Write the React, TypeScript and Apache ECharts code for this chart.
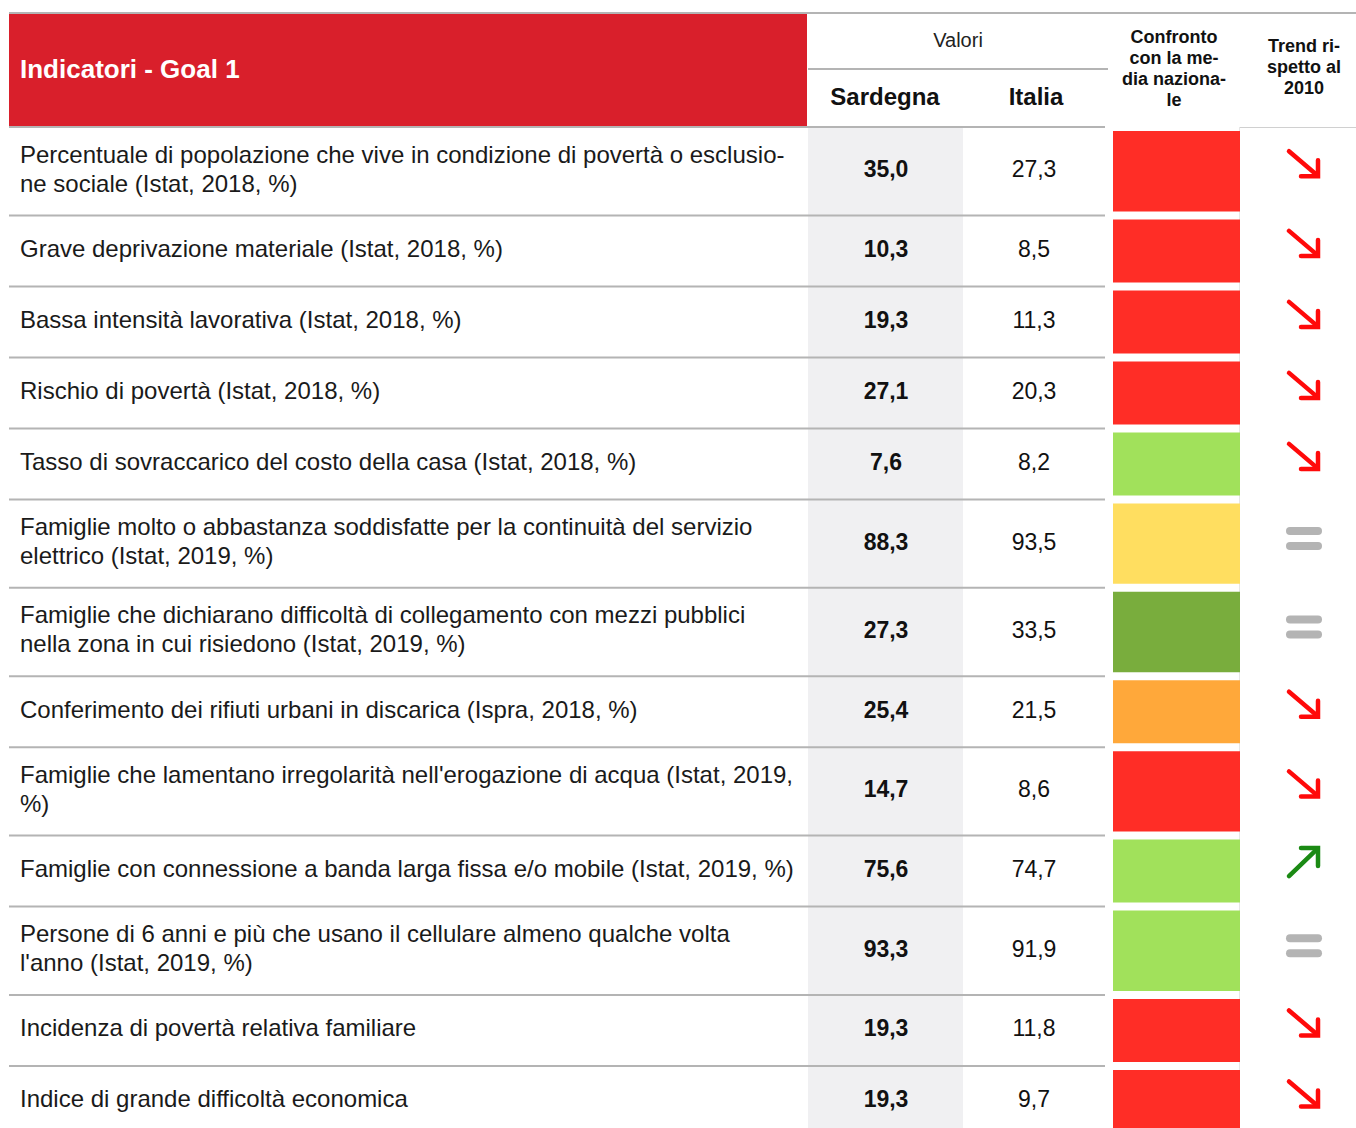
import React, { useEffect, useRef } from "react";
import * as echarts from "echarts";

const LABELS: string[] = [
  "Percentuale di popolazione che vive in condizione di povertà o esclusio-\nne sociale (Istat, 2018, %)",
  "Grave deprivazione materiale (Istat, 2018, %)",
  "Bassa intensità lavorativa (Istat, 2018, %)",
  "Rischio di povertà (Istat, 2018, %)",
  "Tasso di sovraccarico del costo della casa (Istat, 2018, %)",
  "Famiglie molto o abbastanza soddisfatte per la continuità del servizio\nelettrico (Istat, 2019, %)",
  "Famiglie che dichiarano difficoltà di collegamento con mezzi pubblici\nnella zona in cui risiedono (Istat, 2019, %)",
  "Conferimento dei rifiuti urbani in discarica (Ispra, 2018, %)",
  "Famiglie che lamentano irregolarità nell'erogazione di acqua (Istat, 2019,\n%)",
  "Famiglie con connessione a banda larga fissa e/o mobile (Istat, 2019, %)",
  "Persone di 6 anni e più che usano il cellulare almeno qualche volta\nl'anno (Istat, 2019, %)",
  "Incidenza di povertà relativa familiare",
  "Indice di grande difficoltà economica",
];

const SARDEGNA: number[] = [35.0, 10.3, 19.3, 27.1, 7.6, 88.3, 27.3, 25.4, 14.7, 75.6, 93.3, 19.3, 19.3];
const ITALIA: number[] = [27.3, 8.5, 11.3, 20.3, 8.2, 93.5, 33.5, 21.5, 8.6, 74.7, 91.9, 11.8, 9.7];

// comparison with national average
const CONFRONTO: string[] = [
  "peggiore", "peggiore", "peggiore", "peggiore", "migliore", "simile", "molto migliore",
  "leggermente peggiore", "peggiore", "migliore", "migliore", "peggiore", "peggiore",
];

// trend since 2010
const TREND: string[] = [
  "down", "down", "down", "down", "down", "equal", "equal", "down", "down", "up", "equal", "down", "down",
];

const CONFRONTO_COLORS: Record<string, string> = {
  "peggiore": "#ff2d26",
  "leggermente peggiore": "#ffa83a",
  "simile": "#ffde60",
  "migliore": "#a1e15b",
  "molto migliore": "#79ad3d",
};

const FONT = "'Liberation Sans', Arial, Helvetica, sans-serif";
const fmt = (v: number) => v.toFixed(1).replace(".", ",");

export default function App() {
  const ref = useRef<HTMLDivElement>(null);

  useEffect(() => {
    document.body.style.margin = "0";
    if (!ref.current) return;
    const chart = echarts.init(ref.current, undefined, { renderer: "svg" });

    // row extents in "row units": one text line = 1, two text lines = 1.245
    const rows: number[][] = [];
    let acc = 0;
    LABELS.forEach((l, i) => {
      const u = l.split("\n").length > 1 ? 1.245 : 1;
      rows.push([0, acc, acc + u, i]);
      acc += u;
    });
    const UNIT_PX = 71;
    const GRID_TOP = 127;
    const H = 1128;
    const visibleUnits = (H - GRID_TOP) / UNIT_PX;

    const renderItem = (params: any, api: any) => {
      const start = api.value(1);
      const end = api.value(2);
      const i = api.value(3);
      const top = api.coord([0, start])[1];
      const bottom = api.coord([0, end])[1];
      const mid = (top + bottom) / 2;
      const children: any[] = [];

      children.push({
        type: "rect",
        shape: { x: 808, y: top, width: 155, height: bottom - top },
        style: { fill: "#f0f0f2" },
      });
      children.push({
        type: "rect",
        shape: { x: 9, y: top - 1, width: 1096, height: 2 },
        style: { fill: "#b4b4b4" },
      });
      children.push({
        type: "text",
        x: 20,
        y: mid - 2.5,
        style: {
          text: LABELS[i],
          font: `24px ${FONT}`,
          fill: "#1a1a1a",
          lineHeight: 29,
          align: "left",
          textAlign: "left",
          verticalAlign: "middle",
          textVerticalAlign: "middle",
        },
      });
      children.push({
        type: "text",
        x: 886,
        y: mid - 2,
        style: {
          text: fmt(SARDEGNA[i]),
          font: `bold 23px ${FONT}`,
          fill: "#111",
          align: "center",
          textAlign: "center",
          verticalAlign: "middle",
          textVerticalAlign: "middle",
        },
      });
      children.push({
        type: "text",
        x: 1034,
        y: mid - 2,
        style: {
          text: fmt(ITALIA[i]),
          font: `23px ${FONT}`,
          fill: "#111",
          align: "center",
          textAlign: "center",
          verticalAlign: "middle",
          textVerticalAlign: "middle",
        },
      });
      children.push({
        type: "rect",
        shape: { x: 1113, y: top + 4, width: 127, height: bottom - top - 8 },
        style: { fill: CONFRONTO_COLORS[CONFRONTO[i]] },
      });

      const cx = 1304;
      const t = TREND[i];
      if (t === "equal") {
        const cy = mid - 5;
        children.push({
          type: "rect",
          shape: { x: cx - 18, y: cy - 7.5 - 4, width: 36, height: 8, r: 4 },
          style: { fill: "#b4b4b4" },
        });
        children.push({
          type: "rect",
          shape: { x: cx - 18, y: cy + 7.5 - 4, width: 36, height: 8, r: 4 },
          style: { fill: "#b4b4b4" },
        });
      } else if (t === "down") {
        const cy = mid - 7;
        const st = { stroke: "#ff0a0a", lineWidth: 4.5, fill: "none", lineCap: "round", lineJoin: "miter" };
        children.push({
          type: "line",
          shape: { x1: cx - 15, y1: cy - 13, x2: cx + 12, y2: cy + 10 },
          style: st,
        });
        children.push({
          type: "polyline",
          shape: { points: [[cx + 14, cy - 4], [cx + 14, cy + 12], [cx - 3, cy + 12]] },
          style: { ...st, lineCap: "round" },
        });
      } else {
        const cy = mid - 9;
        const st = { stroke: "#1b8a14", lineWidth: 4.5, fill: "none", lineCap: "round", lineJoin: "miter" };
        children.push({
          type: "line",
          shape: { x1: cx - 15, y1: cy + 14, x2: cx + 12, y2: cy - 12 },
          style: st,
        });
        children.push({
          type: "polyline",
          shape: { points: [[cx - 3, cy - 14], [cx + 14, cy - 14], [cx + 14, cy + 4]] },
          style: { ...st, lineCap: "round" },
        });
      }
      return { type: "group", children };
    };

    const textStyle = (text: string, font: string, fill: string, align: string, lineHeight?: number) => ({
      text,
      font,
      fill,
      lineHeight,
      align,
      textAlign: align,
      verticalAlign: "middle",
      textVerticalAlign: "middle",
    });

    chart.setOption({
      animation: false,
      backgroundColor: "#ffffff",
      grid: { left: 0, right: 0, top: GRID_TOP, bottom: 0 },
      xAxis: { type: "value", min: 0, max: 1356, show: false },
      yAxis: { type: "value", min: 0, max: visibleUnits, inverse: true, show: false },
      graphic: [
        { type: "rect", shape: { x: 9, y: 12, width: 1347, height: 2 }, style: { fill: "#b4b4b4" } },
        { type: "rect", shape: { x: 9, y: 14, width: 798, height: 113 }, style: { fill: "#d91f2b" } },
        {
          type: "text",
          x: 20,
          y: 69,
          style: textStyle("Indicatori - Goal 1", `bold 26px ${FONT}`, "#ffffff", "left"),
        },
        {
          type: "text",
          x: 958,
          y: 40,
          style: textStyle("Valori", `20px ${FONT}`, "#222", "center"),
        },
        { type: "rect", shape: { x: 808, y: 68, width: 300, height: 2 }, style: { fill: "#b4b4b4" } },
        {
          type: "text",
          x: 885,
          y: 96,
          style: textStyle("Sardegna", `bold 24px ${FONT}`, "#111", "center"),
        },
        {
          type: "text",
          x: 1036,
          y: 96,
          style: textStyle("Italia", `bold 24px ${FONT}`, "#111", "center"),
        },
        {
          type: "text",
          x: 1174,
          y: 68,
          style: textStyle("Confronto\ncon la me-\ndia naziona-\nle", `bold 18px ${FONT}`, "#111", "center", 21),
        },
        {
          type: "text",
          x: 1304,
          y: 67,
          style: textStyle("Trend ri-\nspetto al\n2010", `bold 18px ${FONT}`, "#111", "center", 21),
        },
        { type: "rect", shape: { x: 1240, y: 127, width: 116, height: 1 }, style: { fill: "#d0d0d0" } },
        { type: "rect", shape: { x: 1239, y: 127, width: 1, height: 1001 }, style: { fill: "#e6e6e6" } },
      ],
      series: [
        {
          type: "custom",
          clip: false,
          renderItem,
          encode: { x: 0, y: 1 },
          data: rows,
          silent: true,
        },
      ],
    });

    return () => chart.dispose();
  }, []);

  return <div ref={ref} style={{ width: 1356, height: 1128 }} />;
}
